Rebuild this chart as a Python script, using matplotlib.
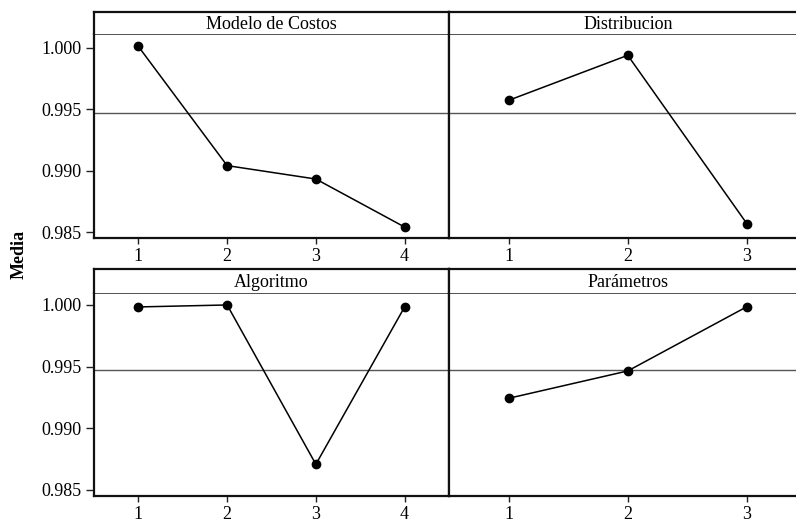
import matplotlib
matplotlib.use("Agg")
import matplotlib.pyplot as plt

# Data
factors = ["Modelo de Costos", "Distribucion", "Algoritmo", "Parámetros"]
levels_costos = [1, 2, 3, 4]
means_costos = [1.0001, 0.99042, 0.98933, 0.98543]
levels_distrib = [1, 2, 3]
means_distrib = [0.99572, 0.99938, 0.98570]
levels_algo = [1, 2, 3, 4]
means_algo = [0.99984, 1.00000, 0.98708, 0.99984]
levels_param = [1, 2, 3]
means_param = [0.99243, 0.99465, 0.99986]
grand_mean = 0.99469
y_ticks = [0.985, 0.990, 0.995, 1.000]
y_label = "Media"

plt.rcParams['font.family'] = ['Liberation Serif', 'DejaVu Serif']

W, H = 796, 522
fig = plt.figure(figsize=(W / 100, H / 100), dpi=100)


def px_axes(x0, y0, x1, y1):
    return fig.add_axes([x0 / W, 1 - y1 / H, (x1 - x0) / W, (y1 - y0) / H])


panels = [
    (factors[0], levels_costos, means_costos, (94, 12, 34, 238), (0.98454, 1.00111), True, 4.5),
    (factors[1], levels_distrib, means_distrib, (449, 12, 34, 238), (0.98454, 1.00111), False, 3.5),
    (factors[2], levels_algo, means_algo, (94, 269, 293, 496), (0.98451, 1.00097), True, 4.5),
    (factors[3], levels_param, means_param, (449, 269, 293, 496), (0.98451, 1.00097), False, 3.5),
]

frame_lw = 1.6
for title, lv, mv, (x0, ytop, ystrip, ybot), ylim, show_y, xmax in panels:
    x1 = x0 + (806.5 - 449 if not show_y else 449 - 94)
    ax = px_axes(x0, ystrip, x1, ybot)
    ax.axhline(grand_mean, color="#555555", lw=1.0, zorder=1)
    ax.plot(lv, mv, color="black", lw=1.1, marker="o", ms=6.0, zorder=3)
    ax.set_xlim(0.5, xmax)
    ax.set_ylim(*ylim)
    ax.set_xticks(lv)
    ax.set_xticklabels([str(v) for v in lv])
    ax.set_yticks(y_ticks)
    if show_y:
        ax.set_yticklabels([f"{t:.3f}" for t in y_ticks])
    else:
        ax.tick_params(axis="y", left=False, labelleft=False)
    ax.tick_params(axis="x", direction="out", length=4.5, width=1.0, labelsize=13,
                   color="#222222", pad=2.5)
    ax.tick_params(axis="y", direction="out", length=5.5, width=1.0, labelsize=13,
                   color="#222222", pad=3.5)
    for s in ax.spines.values():
        s.set_linewidth(frame_lw)
        s.set_color("#111111")
    ax.spines["top"].set_linewidth(1.2)
    ax.spines["top"].set_color("#333333")

    sax = px_axes(x0, ytop, x1, ystrip)
    sax.set_xticks([])
    sax.set_yticks([])
    for s in sax.spines.values():
        s.set_linewidth(frame_lw)
        s.set_color("#111111")
    sax.spines["bottom"].set_visible(False)
    cx = 0.5 if show_y else (628 - x0) / (x1 - x0)
    sax.text(cx, 0.45, title, transform=sax.transAxes,
             ha="center", va="center", fontsize=13)

fig.text(19 / W, 1 - 254 / H, y_label, rotation=90, ha="center", va="center",
         fontsize=13, fontweight="bold")

fig.savefig("out.png", dpi=100)
